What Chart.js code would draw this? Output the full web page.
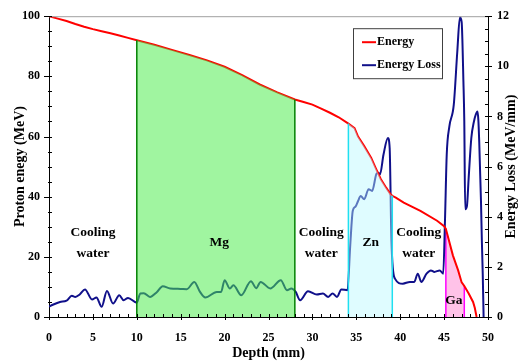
<!DOCTYPE html>
<html><head><meta charset="utf-8">
<script src="https://cdn.jsdelivr.net/npm/chart.js@4"></script>
<style>html,body{margin:0;padding:0;background:#fff;overflow:hidden}#wrap{position:relative;width:519px;height:362px}</style>
</head><body><div id="wrap"><canvas id="c"></canvas></div>
<script>
// ---- data ----
const energyDepth = [0,1,2,3,4,5,6,7,8,9,10,12,14,16,18,20,22,24,26,28,29,30,31,32,33,34.1,34.8,35.2,35.9,36.7,37.2,37.8,38.4,38.9,39.1,39.5,40.4,42.3,44.2,45,45.2,45.5,46,46.6,47,47.3,47.8,48.3,48.5,48.7];
const energyValues = [100,99.2,98.4,97.4,96.5,95.7,95.0,94.3,93.6,92.8,92.0,90.5,88.8,87.1,85.3,83.2,80.4,77.3,74.7,72.3,71.5,70.6,69.3,67.9,66.4,64.3,62.8,60.0,56.8,52.9,49.6,45.8,43.0,40.8,40.3,39.7,38.0,35.3,32.0,30.2,29.3,26.0,20.5,15.5,11.5,10.3,7.8,5.0,3.0,0];
const lossDepth = [0,0.5,1.25,2.0,2.6,3.0,3.5,4.1,4.9,5.4,6.0,6.6,7.3,8.0,8.5,9.0,10.0,10.4,10.8,11.5,12.3,12.95,13.8,15.0,15.7,16.55,17.2,17.8,19.1,19.6,20.0,20.6,21.0,21.9,23.0,23.6,24.1,25.2,26.4,27.1,27.6,28.1,28.6,29.5,30.5,31.2,31.8,32.3,32.8,33.3,34.0,34.3,34.6,34.9,35.2,35.5,35.9,36.4,36.8,37.3,37.5,37.7,38.1,38.6,38.8,39.0,39.4,40.3,41.1,41.6,42.0,42.4,43.0,43.5,43.9,44.5,44.9,45.1,45.3,45.6,46.1,46.5,46.8,47.0,47.2,47.3,47.4,47.6,47.8,48.1,48.4,48.6,48.8,48.9,49.0,49.2,49.3,49.4,49.5];
const lossValues = [0.41,0.5,0.6,0.65,0.85,0.8,0.9,1.1,0.7,0.78,0.41,1.04,0.54,0.87,0.67,0.76,0.57,0.94,0.95,0.8,1.0,1.23,1.14,1.12,1.11,1.4,1.0,0.78,1.0,1.0,1.47,1.14,1.27,0.87,1.43,1.15,1.4,1.14,1.47,1.07,1.14,1.0,0.67,1.03,0.9,0.94,0.8,0.94,0.8,1.1,1.07,2.8,4.24,4.4,4.63,4.83,4.7,5.1,5.03,5.71,5.75,5.69,6.48,7.14,6.74,3.05,1.53,1.33,1.4,1.4,1.73,1.4,1.73,1.86,1.8,1.86,1.73,3.84,6.48,7.6,8.46,10.57,11.96,11.76,9.39,7.8,4.3,4.43,5.56,7.14,7.8,8.07,8.2,7.87,7.0,4.63,3.05,1.73,0];
const regionNames = ['Mg','Zn','Ga'];
const regionStart = [10, 34.1, 45.2];
const regionEnd = [28, 39.1, 47.3];
const labelTexts = [['Cooling','water'],['Mg'],['Cooling','water'],['Zn'],['Cooling','water'],['Ga']];
const labelDepth = [5, 19.4, 31, 36.65, 42.1, 46.1];
const labelEnergy = [24.6, 24.6, 24.6, 24.6, 24.6, 5.6];
const seriesNames = ['Energy','Energy Loss'];

// ---- styles ----
const FONT = '"Liberation Serif", "Times New Roman", serif';
const regionFill = ['rgba(75,236,75,0.53)','rgba(184,248,255,0.45)','#ffc2e8'];
const regionBorder = ['#008000','#20e0f0','#ff00ff'];
const regionOrder = [0, 0, 10];

const toXY = (xs, ys) => xs.map((x, i) => ({x, y: ys[i]}));
const energyPts = toXY(energyDepth, energyValues);
const lossPts = toXY(lossDepth, lossValues);

const datasets = [
  {label: seriesNames[0], data: energyPts, borderColor:'#ff0000', borderWidth:2, pointRadius:0, yAxisID:'y', order:2, fill:false, tension:0},
  {label: seriesNames[1], data: lossPts, borderColor:'#10108a', borderWidth:2, pointRadius:0, yAxisID:'y2', order:3, fill:false, cubicInterpolationMode:'monotone'}
];
regionNames.forEach((name, i) => {
  const a = regionStart[i], b = regionEnd[i];
  const pts = [{x:a, y:0}, ...energyPts.filter(p => p.x >= a && p.x <= b), {x:b, y:0}];
  const n = pts.length;
  datasets.push({
    label: name, data: pts, yAxisID:'y', order: regionOrder[i], pointRadius:0, borderWidth:1.5,
    backgroundColor: regionFill[i], fill:'origin', tension:0,
    borderColor: regionBorder[i],
    segment: {borderColor: ctx => (ctx.p0DataIndex === 0 || ctx.p1DataIndex === n - 1) ? regionBorder[i] : 'rgba(0,0,0,0)'}
  });
});

const decor = {
  id:'decor',
  afterDraw(chart) {
    const {ctx, chartArea: ca, scales} = chart;
    const x = scales.x, y = scales.y, y2 = scales.y2;
    ctx.save();
    // top border
    ctx.strokeStyle = '#a0a0a0'; ctx.lineWidth = 1;
    ctx.beginPath(); ctx.moveTo(ca.left, ca.top + 0.5); ctx.lineTo(ca.right, ca.top + 0.5); ctx.stroke();
    // tick marks
    ctx.strokeStyle = '#000'; ctx.lineWidth = 1;
    ctx.beginPath();
    for (let v = 0; v <= 50; v += 1) {
      const p = Math.round(x.getPixelForValue(v)) + 0.5;
      ctx.moveTo(p, ca.bottom - 3); ctx.lineTo(p, ca.bottom + (v % 5 === 0 ? 3 : 0));
    }
    for (let v = 0; v <= 100; v += 5) {
      const p = Math.round(y.getPixelForValue(v)) + 0.5;
      ctx.moveTo(ca.left + 3, p); ctx.lineTo(ca.left - (v % 20 === 0 ? 5 : 1), p);
    }
    for (let v = 0; v <= 12; v += 0.5) {
      const p = Math.round(y2.getPixelForValue(v)) + 0.5;
      ctx.moveTo(ca.right - 3, p); ctx.lineTo(ca.right + (v % 2 === 0 ? 4 : 0), p);
    }
    ctx.stroke();
    // region / medium labels
    ctx.fillStyle = '#000';
    ctx.font = 'bold 13.5px ' + FONT;
    ctx.textAlign = 'center'; ctx.textBaseline = 'middle';
    labelTexts.forEach((lines, i) => {
      const cx = x.getPixelForValue(labelDepth[i]);
      const cy = y.getPixelForValue(labelEnergy[i]);
      const h = 21;
      lines.forEach((t, k) => ctx.fillText(t, cx, cy + (k - (lines.length - 1) / 2) * h));
    });
    // axis titles
    ctx.font = 'bold 14px ' + FONT;
    const midY = (ca.top + ca.bottom) / 2;
    ctx.save(); ctx.translate(20, midY); ctx.rotate(-Math.PI/2); ctx.fillText('Proton enegy (MeV)', 0, 0); ctx.restore();
    ctx.save(); ctx.translate(511, midY); ctx.rotate(-Math.PI/2); ctx.fillText('Energy Loss (MeV/mm)', 0, 0); ctx.restore();
    ctx.fillText('Depth (mm)', (ca.left + ca.right) / 2, 353);
    // legend
    const bx = ca.right - 135, by = ca.top + 12, bw = 89, bh = 50;
    ctx.fillStyle = '#fff'; ctx.fillRect(bx, by, bw, bh);
    ctx.strokeStyle = '#404040'; ctx.lineWidth = 1;
    ctx.strokeRect(bx + 0.5, by + 0.5, bw, bh);
    ctx.font = 'bold 12px ' + FONT; ctx.textAlign = 'left'; ctx.textBaseline = 'middle';
    [0, 1].forEach(i => {
      const ly = by + (i === 0 ? 14 : 37);
      ctx.strokeStyle = chart.data.datasets[i].borderColor; ctx.lineWidth = 2;
      ctx.beginPath(); ctx.moveTo(bx + 9, ly); ctx.lineTo(bx + 23, ly); ctx.stroke();
      ctx.fillStyle = '#000'; ctx.fillText(chart.data.datasets[i].label, bx + 24, ly);
    });
    ctx.restore();
  }
};

const tickFont = {family: FONT, size: 12, weight: 'bold'};
new Chart(document.getElementById('c'), {
  type: 'line',
  data: {datasets},
  options: {
    responsive: true, maintainAspectRatio: false, animation: false,
    layout: {padding: {top: 14, left: 0, right: 0, bottom: 0}},
    plugins: {legend: {display: false}, tooltip: {enabled: false}},
    scales: {
      x: {type: 'linear', min: 0, max: 50,
          ticks: {stepSize: 5, font: tickFont, color: '#000', padding: 14, maxRotation: 0},
          grid: {display: false, drawTicks: false}, border: {display: true, color: '#000', width: 1},
          afterFit: s => { s.height = 45; }},
      y: {position: 'left', min: 0, max: 100,
          ticks: {stepSize: 20, font: tickFont, color: '#000', padding: 9},
          grid: {display: false, drawTicks: false}, border: {display: true, color: '#000', width: 1},
          afterFit: s => { s.width = 49; }},
      y2: {position: 'right', min: 0, max: 12,
          ticks: {stepSize: 2, font: tickFont, color: '#000', padding: 9},
          grid: {display: false, drawTicks: false}, border: {display: true, color: '#000', width: 1},
          afterFit: s => { s.width = 31; }}
    }
  },
  plugins: [decor]
});
</script></body></html>
